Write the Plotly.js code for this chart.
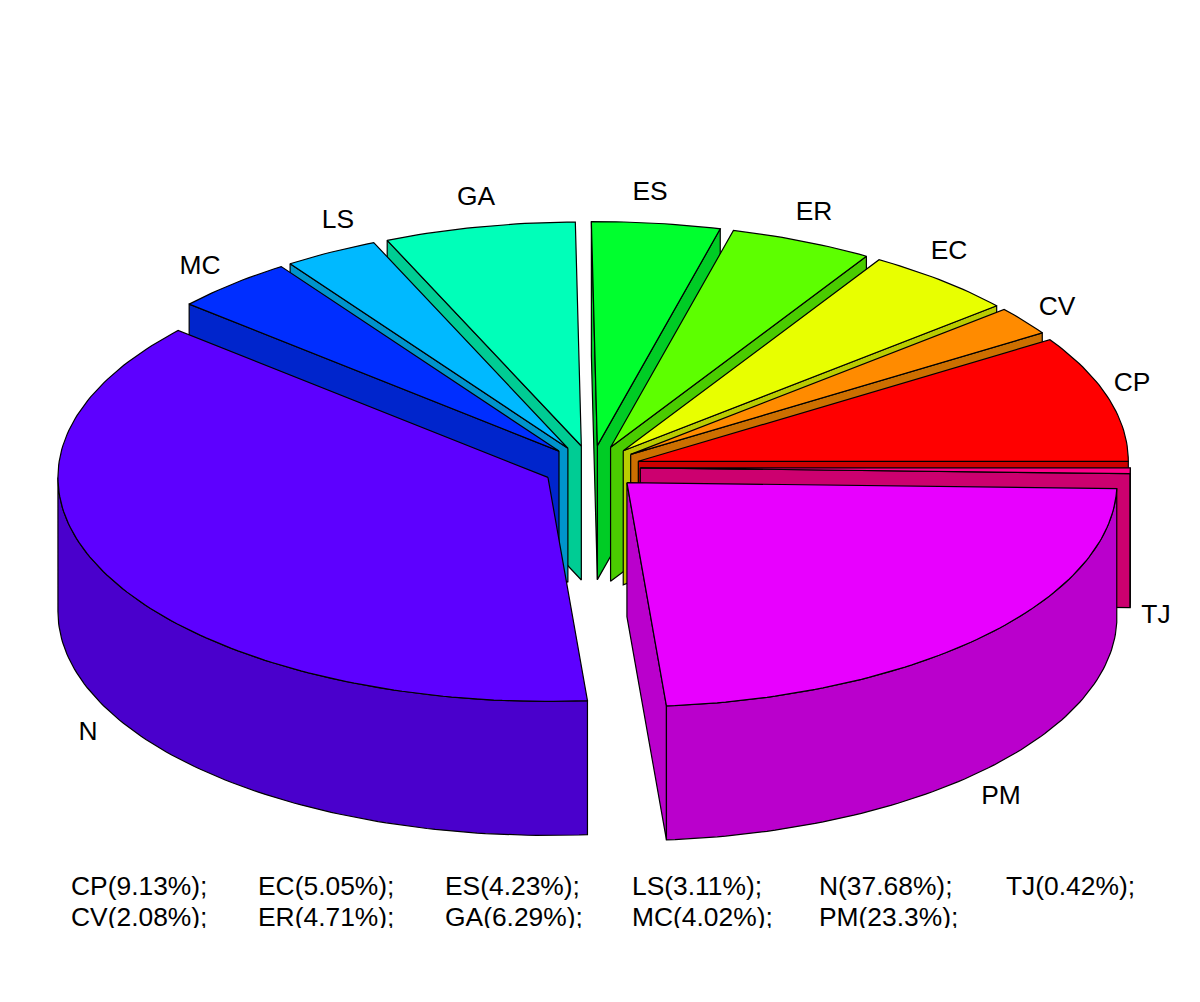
<!DOCTYPE html>
<html>
<head>
<meta charset="utf-8">
<script src="https://cdn.plot.ly/plotly-3.0.1.min.js"></script>
<style>html,body{margin:0;padding:0;background:#fff}#chart{width:1200px;height:1002px}</style>
</head>
<body>
<div id="chart"></div>
<script>
// Data
const categories = ["CP","CV","EC","ER","ES","GA","LS","MC","N","PM","TJ"];
const percentages = [9.13,2.08,5.05,4.71,4.23,6.29,3.11,4.02,37.68,23.3,0.42];
const topColors = ["#FF0000","#FF8B00","#E8FF00","#5DFF00","#00FF2E","#00FFB9","#00B9FF","#002EFF","#5D00FF","#E800FF","#FF008B"];

// Layout of the pseudo-3D pie (pixel-scaled hidden axes)
const PLOT_W = 1200, PLOT_H = 928;
const CX = 591.5, CY = 467.5, RX = 490, RY = 224, DEPTH = 134;
const EXPLODE_X = 48.8, EXPLODE_Y = 22;
const SHADE = 0.8;
const FONT = {family: "Liberation Sans, Arial, sans-serif", size: 26.4, color: "#000"};
const labelCenters = {CP:[1132,384],CV:[1057,308],EC:[949,252],ER:[814,213],ES:[650,193],GA:[476,198],
  LS:[338,221],MC:[200,267],N:[88,733],PM:[1001,797],TJ:[1156,616]};
const keyColumns = [71,258,445,632,819,1006], keyRows = [888,919];

const rad = d => d * Math.PI / 180;
const total = percentages.reduce((a,b) => a + b, 0);
function shade(hex){
  const n = parseInt(hex.slice(1),16);
  return "rgb(" + [(n>>16)&255,(n>>8)&255,n&255].map(v => Math.round(v*SHADE)).join(",") + ")";
}
function arc(c, a0, a1, dy){
  const pts = [], n = Math.max(2, Math.ceil(Math.abs(a1-a0)));
  for (let i = 0; i <= n; i++){
    const a = rad(a0 + (a1-a0)*i/n);
    pts.push([c[0] + RX*Math.cos(a), c[1] - RY*Math.sin(a) + dy]);
  }
  return pts;
}
function face(pts, color){
  const closed = pts.concat([pts[0]]);
  return {type:"scatter", mode:"lines", x:closed.map(p=>p[0]), y:closed.map(p=>p[1]),
    fill:"toself", fillcolor:color, line:{color:"#000",width:1.2}, hoverinfo:"skip", showlegend:false};
}
function radial(c, a, color){
  const o = arc(c,a,a,0)[0];
  return face([c,o,[o[0],o[1]+DEPTH],[c[0],c[1]+DEPTH]], color);
}

let cum = 0;
const slices = categories.map((name,i) => {
  const a0 = cum/total*360; cum += percentages[i]; const a1 = cum/total*360;
  const mid = rad((a0+a1)/2);
  return {name, i, a0, a1, back:Math.sin(mid),
    c:[CX + EXPLODE_X*Math.cos(mid), CY - EXPLODE_Y*Math.sin(mid)]};
});
slices.sort((p,q) => q.back - p.back);

const traces = [];
slices.forEach(s => {
  const top = topColors[s.i], side = shade(top);
  if (Math.cos(rad(s.a0)) > 0) traces.push(radial(s.c, s.a0, side));
  if (Math.cos(rad(s.a1)) < 0) traces.push(radial(s.c, s.a1, side));
  const from = Math.max(s.a0, 180);
  if (s.a1 > 180){
    traces.push(face(arc(s.c,from,s.a1,0).concat(arc(s.c,s.a1,from,DEPTH)), side));
  }
  traces.push(face([s.c].concat(arc(s.c,s.a0,s.a1,0)), top));
});

// Slice labels
traces.push({type:"scatter", mode:"text", cliponaxis:true,
  x:categories.map(n=>labelCenters[n][0]), y:categories.map(n=>labelCenters[n][1]),
  text:categories, textposition:"middle center", textfont:FONT, hoverinfo:"skip", showlegend:false});
// Percentage key in two rows, cut off by the plot edge as in the original
traces.push({type:"scatter", mode:"text", cliponaxis:true,
  x:categories.map((n,i)=>keyColumns[Math.floor(i/2)]), y:categories.map((n,i)=>keyRows[i%2]),
  text:categories.map((n,i)=>n+"("+percentages[i]+"%);"), textposition:"middle right", textfont:FONT,
  hoverinfo:"skip", showlegend:false});

const hidden = {visible:false, fixedrange:true};
Plotly.newPlot("chart", traces, {
  width:1200, height:1002, showlegend:false, hovermode:false,
  paper_bgcolor:"#fff", plot_bgcolor:"#fff",
  margin:{l:0,r:0,t:0,b:1002-PLOT_H,pad:0},
  xaxis:Object.assign({range:[0,PLOT_W]},hidden),
  yaxis:Object.assign({range:[PLOT_H,0]},hidden)
}, {staticPlot:true, displayModeBar:false});
</script>
</body>
</html>
